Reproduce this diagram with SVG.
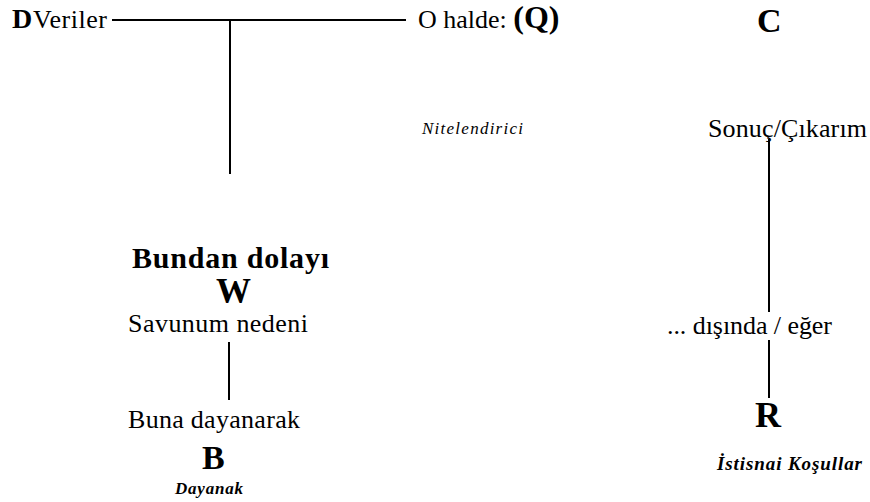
<svg xmlns="http://www.w3.org/2000/svg" width="870" height="502" viewBox="0 0 870 502">
<style>
.t{font-size:26px}
.b{font-weight:bold}
.it{font-style:italic}
.ln{stroke:#000;stroke-width:2;fill:none}
</style>
<rect width="870" height="502" fill="#fff"/>
<g id="connectors">
<line class="ln" x1="112" y1="20" x2="406" y2="20"/>
<line class="ln" x1="230" y1="20" x2="230" y2="174"/>
<line class="ln" x1="229" y1="342" x2="229" y2="400"/>
<line class="ln" x1="769" y1="139" x2="769" y2="312"/>
<line class="ln" x1="769" y1="340" x2="769" y2="398"/>
</g>
<g font-family="Liberation Serif, Times New Roman, DejaVu Serif, serif" fill="#000">
<g id="data"><text x="12" y="28" class="b" font-size="28">D</text><text x="33" y="28" class="t" textLength="74">Veriler</text></g>
<g id="qualifier"><text x="418" y="28" class="t">O halde: <tspan class="b" font-size="32">(Q)</tspan></text></g>
<g id="qualifier-label"><text x="422" y="134" class="it" font-size="17" textLength="101">Nitelendirici</text></g>
<g id="claim"><text x="757" y="32" class="b" font-size="34">C</text>
<text x="708" y="137" class="t" textLength="159">Sonuç/Çıkarım</text></g>
<g id="warrant"><text x="132" y="268" class="b" font-size="30" textLength="197">Bundan dolayı</text>
<text x="216" y="303" class="b" font-size="35">W</text>
<text x="128" y="332" class="t" textLength="180">Savunum nedeni</text></g>
<g id="backing"><text x="128" y="428" class="t" textLength="172">Buna dayanarak</text>
<text x="202" y="469" class="b" font-size="34">B</text>
<text x="175" y="494" class="it b" font-size="17" textLength="68">Dayanak</text></g>
<g id="rebuttal"><text x="667" y="334" class="t" textLength="165">... dışında / eğer</text>
<text x="755" y="427" class="b" font-size="36">R</text>
<text x="717" y="470" class="it b" font-size="19" textLength="145">İstisnai Koşullar</text></g>
</g>
</svg>
